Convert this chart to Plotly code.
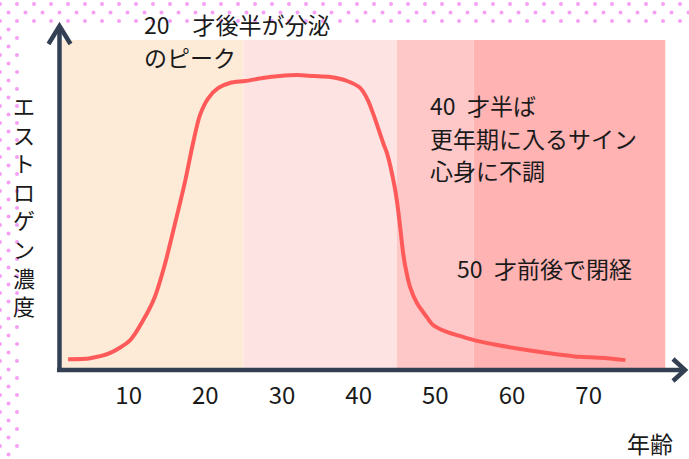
import plotly.graph_objects as go

# Estrogen level over a woman's life (relative units, 0-100)
age = [2.1, 5.0, 7.6, 10.2, 11.9, 13.4, 14.7, 16.0, 17.4, 18.4, 19.3, 20.4, 21.7, 23.2,
       25.2, 27.5, 29.7, 32.0, 34.1, 36.3, 38.5, 40.2, 41.2, 42.1, 43.2, 43.7,
       44.7, 45.1, 45.5, 45.8, 46.1, 46.7, 47.6, 48.9, 49.7, 51.5, 53.6, 55.6,
       58.1, 61.1, 64.6, 68.9, 72.4, 74.8]
estrogen = [2.7, 3.0, 4.6, 8.5, 14.6, 21.6, 31.4, 43.6, 57.3, 68.6, 77.1, 82.3, 85.4, 86.9,
            87.5, 88.4, 89.0, 89.3, 89.0, 88.7, 87.5, 85.4, 81.7, 76.2, 68.6, 65.5,
            55.2, 49.1, 41.2, 35.1, 30.8, 24.7, 19.8, 15.5, 13.1, 11.0, 9.5, 8.2,
            7.0, 5.8, 4.6, 3.4, 3.0, 2.4]

# Life stages shaded behind the curve (age boundaries)
stage_edges = [0, 25, 45, 55, 80]
stage_colors = ["#fdebd8", "#fee3e3", "#ffc8c8", "#ffb3b3"]

tick_ages = [10, 20, 30, 40, 50, 60, 70]
tick_text = ["10", "20", "30", "40", "50", "60", "70"]

W, H = 689, 459
FONT = "Noto Sans CJK JP"
AXIS_COLOR = "#333f52"


def fy(py):
    return (H - py) / H


fig = go.Figure()

fig.add_trace(go.Scatter(
    x=age, y=estrogen, mode="lines",
    line=dict(color="#ff5a5a", width=4, shape="spline", smoothing=0.8),
    hoverinfo="skip", xaxis="x", yaxis="y",
))

# decorative dotted border (top and left edges)
dot_x, dot_y = [], []
j = 0
while 4 + 8.5 * j < H:
    yy = 4 + 8.5 * j
    off = 0 if j % 2 == 0 else 8.5
    xx = off
    while xx < W:
        if yy <= 22 or xx <= 18:
            dot_x.append(xx)
            dot_y.append(yy)
        xx += 17
    j += 1
fig.add_trace(go.Scatter(
    x=dot_x, y=dot_y, mode="markers",
    marker=dict(size=4, color="#f5a0f5", line=dict(width=0)),
    hoverinfo="skip", xaxis="x2", yaxis="y2",
))

shapes = []
for i, c in enumerate(stage_colors):
    shapes.append(dict(type="rect", xref="x", yref="y",
                       x0=stage_edges[i], x1=stage_edges[i + 1], y0=0, y1=100,
                       fillcolor=c, line=dict(width=0), layer="below"))

# axes with chevron arrowheads
shapes += [
    dict(type="line", xref="x2", yref="y2", x0=59.5, y0=27, x1=59.5, y1=372,
         line=dict(color=AXIS_COLOR, width=4.5)),
    dict(type="line", xref="x2", yref="y2", x0=57, y0=370, x1=684, y1=370,
         line=dict(color=AXIS_COLOR, width=4.5)),
    dict(type="path", xref="x2", yref="y2", path="M 48.5 44 L 59.5 26 L 70.5 44",
         line=dict(color=AXIS_COLOR, width=4.5)),
    dict(type="path", xref="x2", yref="y2", path="M 673 359 L 685 370 L 673 381",
         line=dict(color=AXIS_COLOR, width=4.5)),
]

texts = [
    ("20\u3000才後半が分泌", 142, 24),
    ("のピーク", 142, 57),
    ("40\u2002才半ば", 428, 105),
    ("更年期に入るサイン", 428, 138),
    ("心身に不調", 428, 170),
    ("50\u2002才前後で閉経", 455, 268),
]
annotations = []
for t, px, py in texts:
    annotations.append(dict(text=t, xref="x2", yref="y2", x=px, y=py,
                            xanchor="left", yanchor="middle", showarrow=False,
                            font=dict(family=FONT, size=23, color="#1a1a1a")))
annotations.append(dict(text="<br>".join("エストロゲン濃度"), xref="x2", yref="y2",
                        x=24, y=205, xanchor="center", yanchor="middle",
                        showarrow=False,
                        font=dict(family=FONT, size=22, color="#1a1a1a")))
annotations.append(dict(text="年齢", xref="x2", yref="y2", x=650, y=443,
                        xanchor="center", yanchor="middle", showarrow=False,
                        font=dict(family=FONT, size=23, color="#1a1a1a")))

x_left, x_right = 62, 686
px_per_year, px_origin = 7.666, 52.0

fig.update_layout(
    width=W, height=H, autosize=False,
    margin=dict(l=0, r=0, t=0, b=0),
    paper_bgcolor="white", plot_bgcolor="rgba(0,0,0,0)",
    showlegend=False,
    xaxis=dict(domain=[x_left / W, x_right / W],
               range=[(x_left - px_origin) / px_per_year, (x_right - px_origin) / px_per_year],
               tickvals=tick_ages, ticktext=tick_text,
               ticks="outside", ticklen=6, tickcolor="rgba(0,0,0,0)",
               tickfont=dict(family=FONT, size=24, color="#1a1a1a"),
               showgrid=False, zeroline=False, showline=False, anchor="y"),
    yaxis=dict(domain=[fy(368), fy(40)], range=[0, 100], visible=False, anchor="x"),
    xaxis2=dict(domain=[0, 1], range=[0, W], visible=False, anchor="y2"),
    yaxis2=dict(domain=[0, 1], range=[H, 0], visible=False, anchor="x2"),
    shapes=shapes, annotations=annotations,
)

fig.write_html("out.html")
